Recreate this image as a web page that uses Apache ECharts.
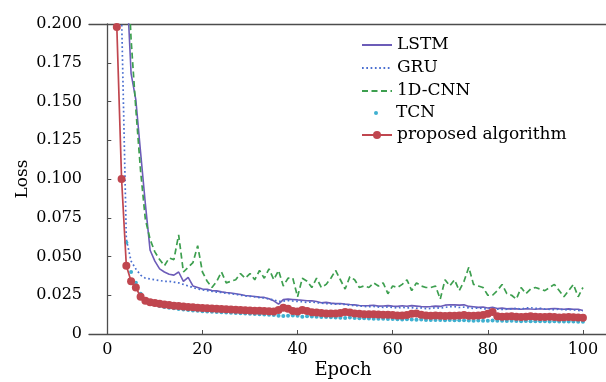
<!DOCTYPE html>
<html>
<head>
<meta charset="utf-8">
<script src="https://cdn.jsdelivr.net/npm/echarts@6/dist/echarts.min.js"></script>
<style>
  html, body { margin: 0; padding: 0; background: #fff; }
  #main { width: 606px; height: 382px; }
</style>
</head>
<body>
<div id="main"></div>
<script>
// epochs 1..100
const epochs = Array.from({ length: 100 }, (_, i) => i + 1);
const xTicks = [0, 20, 40, 60, 80, 100];

const lstmLoss = [
  null, null, null, 0.232, 0.168, 0.151, 0.117, 0.084, 0.054, 0.047,
  0.042, 0.040, 0.0385, 0.038, 0.040, 0.034, 0.0365, 0.031, 0.030, 0.029,
  0.0288, 0.028, 0.0278, 0.0272, 0.0268, 0.0265, 0.026, 0.0255, 0.0248, 0.0245,
  0.0242, 0.0238, 0.0236, 0.0228, 0.0214, 0.0193, 0.0222, 0.0225, 0.0223, 0.022,
  0.0218, 0.0215, 0.0214, 0.021, 0.0202, 0.0204, 0.0199, 0.0196, 0.0197, 0.0193,
  0.019, 0.0188, 0.0184, 0.0182, 0.0183, 0.0185, 0.018, 0.0181, 0.0183, 0.018,
  0.0178, 0.0182, 0.0179, 0.0183, 0.018, 0.0177, 0.0175, 0.0177, 0.018, 0.0178,
  0.0186, 0.0189, 0.0188, 0.0186, 0.0188, 0.0178, 0.0176, 0.0172, 0.0174, 0.0168,
  0.0172, 0.0165, 0.0167, 0.0162, 0.0164, 0.0162, 0.016, 0.0163, 0.0161, 0.016,
  0.0163, 0.016, 0.0162, 0.0165, 0.0162, 0.016, 0.0162, 0.016, 0.016, 0.0152
];

const gruLoss = [
  null, null, 0.205, 0.061, 0.047, 0.042, 0.038, 0.036, 0.0355, 0.035,
  0.0345, 0.034, 0.034, 0.0335, 0.033, 0.032, 0.031, 0.030, 0.029, 0.0285,
  0.028, 0.0275, 0.027, 0.0268, 0.0262, 0.026, 0.0256, 0.025, 0.0246, 0.0243,
  0.024, 0.0235, 0.0232, 0.0226, 0.022, 0.021, 0.0212, 0.0216, 0.0213, 0.021,
  0.0208, 0.0204, 0.0206, 0.0202, 0.0199, 0.0196, 0.0194, 0.0192, 0.0194, 0.019,
  0.0186, 0.0184, 0.018, 0.0178, 0.0176, 0.0178, 0.0174, 0.0172, 0.0175, 0.0171,
  0.0168, 0.0172, 0.0168, 0.017, 0.0166, 0.0168, 0.0163, 0.0165, 0.017, 0.0166,
  0.0172, 0.0176, 0.0177, 0.0171, 0.0173, 0.0168, 0.0165, 0.0168, 0.0163, 0.0161,
  0.0165, 0.0161, 0.0158, 0.016, 0.0162, 0.0166, 0.016, 0.0168, 0.017, 0.0165,
  0.0166, 0.0161, 0.0159, 0.0157, 0.016, 0.0155, 0.0158, 0.0155, 0.0152, 0.015
];

const cnnLoss = [
  null, null, null, 0.255, 0.19, 0.145, 0.105, 0.074, 0.061, 0.053,
  0.048, 0.044, 0.049, 0.048, 0.064, 0.040, 0.043, 0.046, 0.057, 0.040,
  0.034, 0.030, 0.034, 0.040, 0.033, 0.034, 0.035, 0.039, 0.036, 0.039,
  0.035, 0.041, 0.036, 0.042, 0.035, 0.041, 0.031, 0.036, 0.036, 0.024,
  0.036, 0.034, 0.030, 0.036, 0.030, 0.032, 0.036, 0.041, 0.035, 0.029,
  0.037, 0.035, 0.030, 0.031, 0.030, 0.033, 0.031, 0.033, 0.026, 0.031,
  0.030, 0.032, 0.035, 0.028, 0.033, 0.031, 0.030, 0.030, 0.031, 0.0225,
  0.035, 0.031, 0.035, 0.028, 0.034, 0.043, 0.032, 0.031, 0.030, 0.025,
  0.025, 0.028, 0.032, 0.026, 0.025, 0.0225, 0.030, 0.026, 0.029, 0.030,
  0.029, 0.028, 0.030, 0.032, 0.028, 0.024, 0.028, 0.032, 0.024, 0.030
];

const tcnLoss = [
  null, null, null, 0.059, 0.040, 0.033, 0.026, 0.022, 0.020, 0.019,
  0.018, 0.0175, 0.017, 0.0166, 0.0162, 0.0158, 0.0155, 0.0152, 0.015, 0.0147,
  0.0145, 0.0143, 0.0142, 0.014, 0.0138, 0.0137, 0.0135, 0.0134, 0.0132, 0.013,
  0.0129, 0.0128, 0.0126, 0.0125, 0.0123, 0.0118, 0.0116, 0.0118, 0.012, 0.0118,
  0.0112, 0.0115, 0.0113, 0.0112, 0.011, 0.0109, 0.0108, 0.0106, 0.0105, 0.0104,
  0.0106, 0.0103, 0.0102, 0.0101, 0.010, 0.0099, 0.0098, 0.0098, 0.0097, 0.0096,
  0.0095, 0.0094, 0.0095, 0.0093, 0.0092, 0.0093, 0.0091, 0.009, 0.0091, 0.009,
  0.0089, 0.009, 0.0088, 0.0088, 0.0089, 0.0087, 0.0086, 0.0087, 0.0086, 0.0085,
  0.0087, 0.0086, 0.0085, 0.0084, 0.0085, 0.0084, 0.0083, 0.0084, 0.0083, 0.0082,
  0.0083, 0.0082, 0.0081, 0.0082, 0.0081, 0.008, 0.0081, 0.008, 0.0079, 0.0079
];

const proposedLoss = [
  null, 0.198, 0.100, 0.044, 0.034, 0.030, 0.024, 0.0215, 0.0205, 0.020,
  0.0195, 0.019, 0.0187, 0.0183, 0.018, 0.0178, 0.0175, 0.0172, 0.017, 0.0168,
  0.0166, 0.0165, 0.0163, 0.0162, 0.016, 0.0158, 0.0157, 0.0155, 0.0153, 0.0152,
  0.015, 0.015, 0.0148, 0.0146, 0.0145, 0.0155, 0.017, 0.0163, 0.0148, 0.0145,
  0.0155, 0.0148, 0.014, 0.0138, 0.0136, 0.0133, 0.0132, 0.0133, 0.0135, 0.0142,
  0.0138, 0.0132, 0.013, 0.0128, 0.0127, 0.0128, 0.0126, 0.0125, 0.0124, 0.0123,
  0.012, 0.0119, 0.0122, 0.013, 0.0132, 0.0124, 0.012, 0.0118, 0.0119, 0.0117,
  0.0116, 0.0117, 0.0118, 0.012, 0.0122, 0.0118, 0.0117, 0.0119, 0.0123, 0.013,
  0.0142, 0.0114, 0.0112, 0.0113, 0.0114, 0.0112, 0.011, 0.0112, 0.0115, 0.0111,
  0.0109, 0.011, 0.0112, 0.0109, 0.0107, 0.0108, 0.011, 0.0108, 0.0106, 0.0105
];

const FONT = 'DejaVu Serif';
const TEXT_COLOR = '#000';
const AXIS_COLOR = '#4d4d4d';

const pairs = (arr) => arr.map((v, i) => [epochs[i], v]);

// one legend per row so each icon can have its own size
const legendRows = [
  { name: 'LSTM', cy: 45, h: 10, hideSymbol: true },
  { name: 'GRU', cy: 68, h: 10, hideSymbol: true },
  { name: '1D-CNN', cy: 91, h: 10, hideSymbol: true },
  { name: 'TCN', cy: 113, h: 5, hideLine: true },
  { name: 'proposed algorithm', cy: 135, h: 10 }
];

const legends = legendRows.map(r => ({
  data: [r.name],
  left: 361,
  top: r.cy - 10,
  padding: 0,
  itemWidth: 30,
  itemHeight: r.h,
  selectedMode: false,
  itemStyle: r.hideSymbol ? { opacity: 0 } : {},
  lineStyle: r.hideLine ? { opacity: 0 } : {},
  textStyle: { fontFamily: FONT, fontSize: 17, color: TEXT_COLOR, lineHeight: 20 }
}));

const option = {
  animation: false,
  backgroundColor: '#ffffff',
  legend: legends,
  grid: { left: 89, right: 0, top: 24, bottom: 48, outerBoundsMode: 'none' },
  xAxis: [
    {
      type: 'value',
      min: -3.85,
      max: 104.85,
      name: 'Epoch',
      nameLocation: 'middle',
      nameGap: 27,
      nameMoveOverlap: false,
      nameTextStyle: { fontFamily: FONT, fontSize: 18, color: TEXT_COLOR, padding: [0, 9, 0, 0] },
      axisLine: { show: true, lineStyle: { color: AXIS_COLOR, width: 1.3 } },
      axisTick: { show: true, inside: true, length: 4, customValues: xTicks, lineStyle: { color: AXIS_COLOR } },
      axisLabel: { customValues: xTicks, margin: 8, fontFamily: FONT, fontSize: 16, color: TEXT_COLOR },
      splitLine: { show: false }
    },
    {
      type: 'value',
      position: 'top',
      min: -3.85,
      max: 104.85,
      axisLine: { show: true, lineStyle: { color: AXIS_COLOR, width: 1.3 } },
      axisTick: { show: false },
      axisLabel: { show: false },
      splitLine: { show: false }
    }
  ],
  yAxis: {
    type: 'value',
    min: 0,
    max: 0.2,
    interval: 0.025,
    name: 'Loss',
    nameLocation: 'middle',
    nameGap: 58,
    nameMoveOverlap: false,
    nameTextStyle: { fontFamily: FONT, fontSize: 17, color: TEXT_COLOR },
    axisLine: { show: true, lineStyle: { color: AXIS_COLOR, width: 1.3 } },
    axisTick: { show: true, inside: true, length: 4, lineStyle: { color: AXIS_COLOR } },
    axisLabel: {
      margin: 7,
      fontFamily: FONT,
      fontSize: 16,
      color: TEXT_COLOR,
      formatter: v => (v === 0 ? '0' : v.toFixed(3))
    },
    splitLine: { show: false }
  },
  series: [
    {
      name: 'LSTM',
      type: 'line',
      data: pairs(lstmLoss),
      symbol: 'none',
      color: '#6c5cb8',
      lineStyle: { width: 1.6, color: '#6c5cb8' },
      z: 2
    },
    {
      name: 'GRU',
      type: 'line',
      data: pairs(gruLoss),
      symbol: 'none',
      color: '#4a6fd0',
      lineStyle: { width: 1.7, color: '#4a6fd0', type: [1.7, 2.6] },
      z: 2
    },
    {
      name: '1D-CNN',
      type: 'line',
      data: pairs(cnnLoss),
      symbol: 'none',
      color: '#3d9f4f',
      lineStyle: { width: 1.7, color: '#3d9f4f', type: [6, 3.5] },
      z: 2
    },
    {
      name: 'TCN',
      type: 'line',
      data: pairs(tcnLoss),
      symbol: 'circle',
      symbolSize: 4,
      showSymbol: true,
      color: '#3fb0d0',
      itemStyle: { color: '#3fb0d0' },
      lineStyle: { width: 0, opacity: 0 },
      z: 3
    },
    {
      name: 'proposed algorithm',
      type: 'line',
      data: pairs(proposedLoss),
      symbol: 'circle',
      symbolSize: 8,
      showSymbol: true,
      color: '#c0464f',
      itemStyle: { color: '#c0464f' },
      lineStyle: { width: 1.7, color: '#c0464f' },
      z: 4
    }
  ]
};

const chart = echarts.init(document.getElementById('main'));
chart.setOption(option);
</script>
</body>
</html>
